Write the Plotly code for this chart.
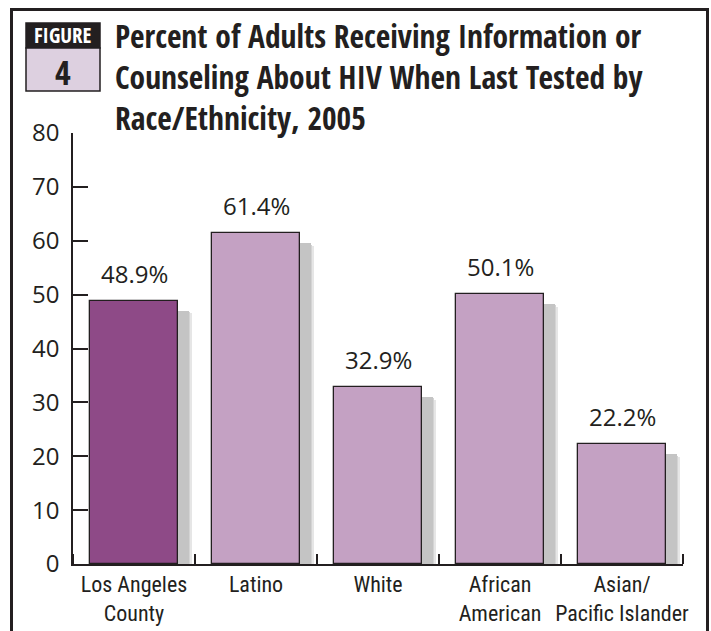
import plotly.graph_objects as go

# Share of adults who got HIV information/counseling at their last test, 2005
categories = ["Los Angeles<br>County", "Latino", "White", "African<br>American", "Asian/<br>Pacific Islander"]
percent = [48.9, 61.4, 32.9, 50.1, 22.2]
y_ticks = [0, 10, 20, 30, 40, 50, 60, 70, 80]

W, H = 711, 631
M_L, M_R, M_T, M_B = 73, 28, 133, 67
PW, PH = W - M_L - M_R, H - M_T - M_B

def px_x(px):
    return (px - M_L) / PW

def px_y(py):
    return (H - M_B - py) / PH

INK = "#231f20"
DARK = "#8e4a87"
LIGHT = "#c4a1c3"
BODY_FONT = "Open Sans, Liberation Sans, sans-serif"
TITLE_FONT = "Open Sans Condensed, Roboto Condensed, sans-serif"
LABEL_FONT = "Roboto Condensed, DejaVu Sans Condensed, sans-serif"

xs = list(range(len(categories)))
bar_w = 0.72

fig = go.Figure()

# soft drop shadows: a few stacked grey layers shifted right and down
for dx, dy, col in [(0.118, 2.4, "#e6e6e6"), (0.103, 2.1, "#d4d4d4"), (0.088, 1.85, "#c4c4c4")]:
    fig.add_trace(go.Bar(
        x=xs, y=[v - dy for v in percent], width=bar_w, offset=-bar_w / 2 + dx,
        marker=dict(color=col, line=dict(width=0)), hoverinfo="skip", showlegend=False,
    ))

fig.add_trace(go.Bar(
    x=xs, y=percent, width=bar_w,
    marker=dict(color=[DARK] + [LIGHT] * (len(percent) - 1), line=dict(color=INK, width=1.3)),
    showlegend=False,
))

annotations = []
for x, v in zip(xs, percent):
    annotations.append(dict(
        x=x, y=v, xref="x", yref="y", text=f"{v:.1f}%", showarrow=False,
        yanchor="bottom", yshift=9, font=dict(family=BODY_FONT, size=24, color=INK),
    ))

# title block
annotations.append(dict(
    xref="paper", yref="paper", x=px_x(113), y=px_y(12), xanchor="left", yanchor="top",
    align="left", showarrow=False,
    text="<b>Percent of Adults Receiving Information or<br>Counseling About HIV When Last Tested by<br>Race/Ethnicity, 2005</b>",
    font=dict(family=TITLE_FONT, size=31.5, color=INK),
))
annotations.append(dict(
    xref="paper", yref="paper", x=px_x(63), y=px_y(35.5), xanchor="center", yanchor="middle",
    showarrow=False, text="<b>FIGURE</b>",
    font=dict(family=TITLE_FONT, size=21, color="white"),
))
annotations.append(dict(
    xref="paper", yref="paper", x=px_x(63), y=px_y(71.5), xanchor="center", yanchor="middle",
    showarrow=False, text="<b>4</b>",
    font=dict(family=TITLE_FONT, size=34, color=INK),
))

shapes = [
    # outer frame
    dict(type="rect", xref="paper", yref="paper", x0=px_x(11.5), x1=px_x(707.5), y0=px_y(645), y1=px_y(9.5),
         line=dict(color=INK, width=3), fillcolor="rgba(0,0,0,0)", layer="above"),
    # FIGURE badge
    dict(type="rect", xref="paper", yref="paper", x0=px_x(26), x1=px_x(100), y0=px_y(48), y1=px_y(23),
         line=dict(color=INK, width=1.5), fillcolor=INK),
    dict(type="rect", xref="paper", yref="paper", x0=px_x(26), x1=px_x(100), y0=px_y(91), y1=px_y(48),
         line=dict(color=INK, width=1.5), fillcolor="#ddd0e0"),
]

fig.update_layout(
    width=W, height=H,
    margin=dict(l=M_L, r=M_R, t=M_T, b=M_B, pad=0),
    paper_bgcolor="white", plot_bgcolor="white",
    barmode="overlay", bargap=0,
    annotations=annotations, shapes=shapes,
    xaxis=dict(
        range=[-0.5, len(categories) - 0.5], tickmode="array", tickvals=xs, ticktext=categories,
        ticks="", tickangle=0, automargin=False,
        showline=True, linecolor=INK, linewidth=1.5, showgrid=False, zeroline=False,
        tickfont=dict(family=LABEL_FONT, size=22, color=INK),
        minor=dict(tickmode="linear", tick0=-0.5, dtick=1, ticks="inside", ticklen=10,
                   tickcolor=INK, tickwidth=1.5, showgrid=False),
        fixedrange=True,
    ),
    yaxis=dict(
        range=[0, 80], tickmode="array", tickvals=y_ticks, ticks="inside", ticklen=15,
        tickcolor=INK, tickwidth=1.5, showline=True, linecolor=INK, linewidth=1.5,
        showgrid=False, zeroline=False, ticklabelstandoff=7, automargin=False,
        tickfont=dict(family=BODY_FONT, size=24, color=INK), fixedrange=True,
    ),
)

fig.write_html("out.html")
